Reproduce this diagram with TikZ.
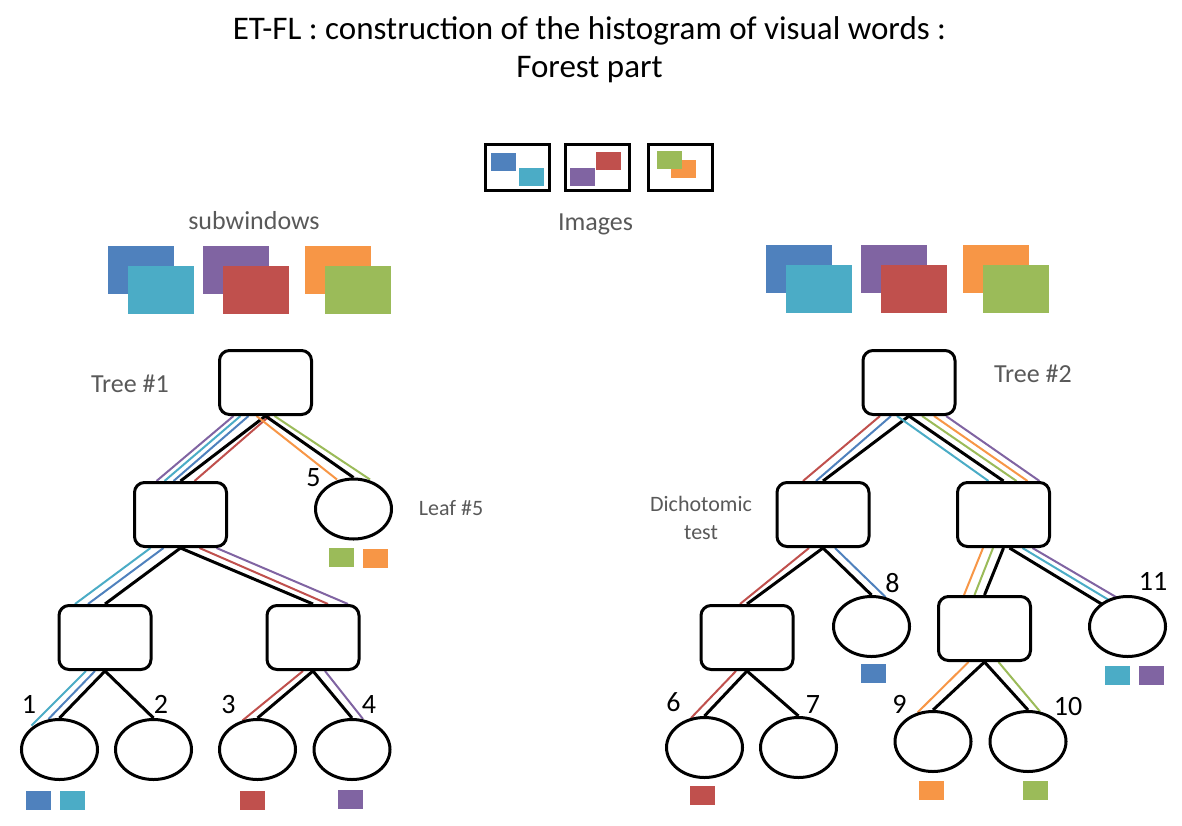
\documentclass[tikz,border=0pt]{standalone}
\usepackage{xcolor}
\usepackage{fontspec}
\setmainfont{Carlito}
\usepackage{tikz}
\usetikzlibrary{shapes.geometric, calc, backgrounds}

\definecolor{swBlue}{HTML}{4F81BD}
\definecolor{swCyan}{HTML}{4BACC6}
\definecolor{swPurple}{HTML}{8064A2}
\definecolor{swRed}{HTML}{C0504D}
\definecolor{swOrange}{HTML}{F79646}
\definecolor{swGreen}{HTML}{9BBB59}
\definecolor{labelGray}{HTML}{595959}

\begin{document}
\begin{tikzpicture}[
    x=1pt, y=-1pt,
    test/.style={rectangle, draw, line width=3pt, rounded corners=10pt, fill=white, minimum width=92pt, minimum height=64pt, inner sep=0pt},
    leaf/.style={ellipse, draw, line width=3pt, fill=white, minimum width=76pt, minimum height=60pt, inner sep=0pt},
    subwin/.style={rectangle, minimum width=66pt, minimum height=48pt, inner sep=0pt},
    imgbox/.style={rectangle, draw, line width=3pt, minimum width=64pt, minimum height=46pt, inner sep=0pt},
    patch/.style={rectangle, minimum width=25pt, minimum height=18pt, inner sep=0pt},
    tag/.style={rectangle, minimum width=25pt, minimum height=19pt, inner sep=0pt},
    branch/.style={line width=3pt},
    wire/.style={line width=2pt},
    headline/.style={font=\fontsize{33}{38}\selectfont, inner sep=0pt, anchor=base},
    label/.style={font=\fontsize{26}{30}\selectfont, text=labelGray, inner sep=0pt, anchor=base},
    note/.style={font=\fontsize{22}{27.6}\selectfont, text=labelGray, inner sep=0pt, align=center},
    num/.style={font=\fontsize{28}{32}\selectfont, inner sep=0pt, anchor=base},
]
\useasboundingbox (0,0) rectangle (1182,825);

% Title
\node[headline] (title1) at (589.5,39) {ET-FL : construction of the histogram of visual words :};
\node[headline] (title2) at (589.5,77) {Forest part};

% Images
\node[imgbox] (img1) at (517.5,167.5) {};
\node[imgbox] (img2) at (597,167.5) {};
\node[imgbox] (img3) at (680,167.5) {};
\node[patch, fill=swBlue] (img1a) at (503.5,162) {};
\node[patch, fill=swCyan] (img1b) at (531.5,177) {};
\node[patch, fill=swRed] (img2a) at (608.5,160.5) {};
\node[patch, fill=swPurple] (img2b) at (582.5,177) {};
\node[patch, fill=swOrange] (img3b) at (683,168.5) {};
\node[patch, fill=swGreen] (img3a) at (669.5,160) {};
\node[label] (images) at (595.5,230) {Images};

% Subwindows
\node[label] (subwin) at (254,229) {subwindows};
\node[subwin, fill=swBlue] (sw1a) at (141,270) {};
\node[subwin, fill=swCyan] (sw1b) at (161,290) {};
\node[subwin, fill=swPurple] (sw1c) at (236,270) {};
\node[subwin, fill=swRed] (sw1d) at (256,290) {};
\node[subwin, fill=swOrange] (sw1e) at (338,270) {};
\node[subwin, fill=swGreen] (sw1f) at (358,290) {};
\node[subwin, fill=swBlue] (sw2a) at (799,269) {};
\node[subwin, fill=swCyan] (sw2b) at (819,289) {};
\node[subwin, fill=swPurple] (sw2c) at (894,269) {};
\node[subwin, fill=swRed] (sw2d) at (914,289) {};
\node[subwin, fill=swOrange] (sw2e) at (996,269) {};
\node[subwin, fill=swGreen] (sw2f) at (1016,289) {};

% Tree 1
\node[test] (root1) at (265.5,382.5) {};
\node[test] (test1L) at (180.5,514.5) {};
\node[leaf] (leaf5) at (353.5,509) {};
\node[test] (test1LL) at (105,637.5) {};
\node[test] (test1LR) at (313,637.5) {};
\node[leaf] (leaf1) at (59.5,749.5) {};
\node[leaf] (leaf2) at (153.5,749.5) {};
\node[leaf] (leaf3) at (257.5,749.5) {};
\node[leaf] (leaf4) at (352,749.5) {};

% Tree 2
\node[test] (root2) at (909,382.5) {};
\node[test] (test2L) at (823,514.5) {};
\node[test] (test2R) at (1003.5,514.5) {};
\node[test] (test2LL) at (747,637.5) {};
\node[leaf] (leaf8) at (871.5,626.5) {};
\node[test] (test2RL) at (984.5,628.5) {};
\node[leaf] (leaf11) at (1127.5,626.5) {};
\node[leaf] (leaf6) at (704.5,747.5) {};
\node[leaf] (leaf7) at (798.5,747.5) {};
\node[leaf] (leaf9) at (933,741.5) {};
\node[leaf] (leaf10) at (1028,741.5) {};

% Labels
\node[label] (tree1) at (130,392) {Tree \#1};
\node[label] (tree2) at (1033,382) {Tree \#2};
\node[note, anchor=base] (leafnote) at (451,515.7) {Leaf \#5};
\node[note] (dicho) at (701,518) {Dichotomic\\test};
\node[num] (num1) at (29,713) {1};
\node[num] (num2) at (161,713) {2};
\node[num] (num3) at (228.5,713) {3};
\node[num] (num4) at (369,713) {4};
\node[num] (num5) at (313.5,486) {5};
\node[num] (num6) at (673.5,711) {6};
\node[num] (num7) at (813,713) {7};
\node[num] (num8) at (892.5,592) {8};
\node[num] (num9) at (899.5,713) {9};
\node[num] (num10) at (1068,715.5) {10};
\node[num] (num11) at (1153,590.5) {11};

% Leaf histograms
\node[tag, fill=swGreen] (tag5a) at (341.5,557.5) {};
\node[tag, fill=swOrange] (tag5b) at (375,558.5) {};
\node[tag, fill=swBlue] (tag1a) at (38.5,800.5) {};
\node[tag, fill=swCyan] (tag1b) at (72.5,800.5) {};
\node[tag, fill=swRed] (tag3) at (252.5,800.5) {};
\node[tag, fill=swPurple] (tag4) at (350,799.5) {};
\node[tag, fill=swBlue] (tag8) at (873,673.5) {};
\node[tag, fill=swCyan] (tag11a) at (1117,675) {};
\node[tag, fill=swPurple] (tag11b) at (1151,675) {};
\node[tag, fill=swRed] (tag6) at (702.5,795.5) {};
\node[tag, fill=swOrange] (tag9) at (931,790.5) {};
\node[tag, fill=swGreen] (tag10) at (1035,790.5) {};

% Branches
\begin{scope}[on background layer]
\draw[branch] (root1.south) -- (test1L.north);
\draw[wire, swPurple] ($(root1.south)+(-32,0)$) -- ($(test1L.north)+(-24,0)$);
\draw[wire, swCyan] ($(root1.south)+(-25,0)$) -- ($(test1L.north)+(-16,0)$);
\draw[wire, swBlue] ($(root1.south)+(-17,0)$) -- ($(test1L.north)+(-7,0)$);
\draw[wire, swRed] ($(root1.south)+(4,0)$) -- ($(test1L.north)+(14,0)$);
\draw[branch] (root1.south) -- (leaf5.north);
\draw[wire, swOrange] ($(root1.south)+(-9,0)$) -- ($(leaf5.north)+(-16.5,2)$);
\draw[wire, swGreen] ($(root1.south)+(9,0)$) -- ($(leaf5.north)+(16.5,2)$);

\draw[branch] (test1L.south) -- (test1LL.north);
\draw[wire, swCyan] ($(test1L.south)+(-30,0)$) -- ($(test1LL.north)+(-30,0)$);
\draw[wire, swBlue] ($(test1L.south)+(-17,0)$) -- ($(test1LL.north)+(-17,0)$);
\draw[branch] (test1L.south) -- (test1LR.north);
\draw[wire, swRed] ($(test1L.south)+(19,0)$) -- ($(test1LR.north)+(15,0)$);
\draw[wire, swPurple] ($(test1L.south)+(36,0)$) -- ($(test1LR.north)+(35,0)$);

\draw[branch] (test1LL.south) -- (leaf1.north);
\draw[wire, swCyan] ($(test1LL.south)+(-19,0)$) -- ($(leaf1.north)+(-28,7.5)$);
\draw[wire, swBlue] ($(test1LL.south)+(-10,0)$) -- ($(leaf1.north)+(-11,1)$);
\draw[branch] (test1LL.south) -- (leaf2.north);
\draw[branch] (test1LR.south) -- (leaf3.north);
\draw[wire, swRed] ($(test1LR.south)+(-10,0)$) -- ($(leaf3.north)+(-15,2.5)$);
\draw[branch] (test1LR.south) -- (leaf4.north);
\draw[wire, swPurple] ($(test1LR.south)+(12,0)$) -- ($(leaf4.north)+(11,1)$);

\draw[branch] (root2.south) -- (test2L.north);
\draw[wire, swRed] ($(root2.south)+(-29,0)$) -- ($(test2L.north)+(-20,0)$);
\draw[wire, swBlue] ($(root2.south)+(-18,0)$) -- ($(test2L.north)+(-7,0)$);
\draw[branch] (root2.south) -- (test2R.north);
\draw[wire, swCyan] ($(root2.south)+(-12,0)$) -- ($(test2R.north)+(-15,0)$);
\draw[wire, swGreen] ($(root2.south)+(13,0)$) -- ($(test2R.north)+(13,0)$);
\draw[wire, swOrange] ($(root2.south)+(25,0)$) -- ($(test2R.north)+(24,0)$);
\draw[wire, swPurple] ($(root2.south)+(37,0)$) -- ($(test2R.north)+(36,0)$);

\draw[branch] (test2L.south) -- (test2LL.north);
\draw[wire, swRed] ($(test2L.south)+(-14,0)$) -- ($(test2LL.north)+(-7,0)$);
\draw[branch] (test2L.south) -- (leaf8.north);
\draw[wire, swBlue] ($(test2L.south)+(12,0)$) -- ($(leaf8.north)+(14,2)$);
\draw[branch] (test2R.south) -- (test2RL.north);
\draw[wire, swGreen] ($(test2R.south)+(-10.5,0)$) -- ($(test2RL.north)+(-10,0)$);
\draw[wire, swOrange] ($(test2R.south)+(-20.5,0)$) -- ($(test2RL.north)+(-20.5,0)$);
\draw[branch] ($(test2R.south)+(6,0)$) -- ($(leaf11.center)+(-18.5,-18)$);
\draw[wire, swCyan] ($(test2R.south)+(19,0)$) -- ($(leaf11.center)+(-12,-22.5)$);
\draw[wire, swPurple] ($(test2R.south)+(29,0)$) -- ($(leaf11.center)+(-3,-24.5)$);

\draw[branch] (test2LL.south) -- (leaf6.north);
\draw[wire, swRed] ($(test2LL.south)+(-11,0)$) -- ($(leaf6.north)+(-13.5,2)$);
\draw[branch] (test2LL.south) -- (leaf7.north);
\draw[branch] (test2RL.south) -- (leaf9.north);
\draw[wire, swOrange] ($(test2RL.south)+(-16,0)$) -- ($(leaf9.north)+(-15.5,2.5)$);
\draw[branch] (test2RL.south) -- (leaf10.north);
\draw[wire, swGreen] ($(test2RL.south)+(14,0)$) -- ($(leaf10.north)+(12,1.5)$);
\end{scope}

\end{tikzpicture}
\end{document}
